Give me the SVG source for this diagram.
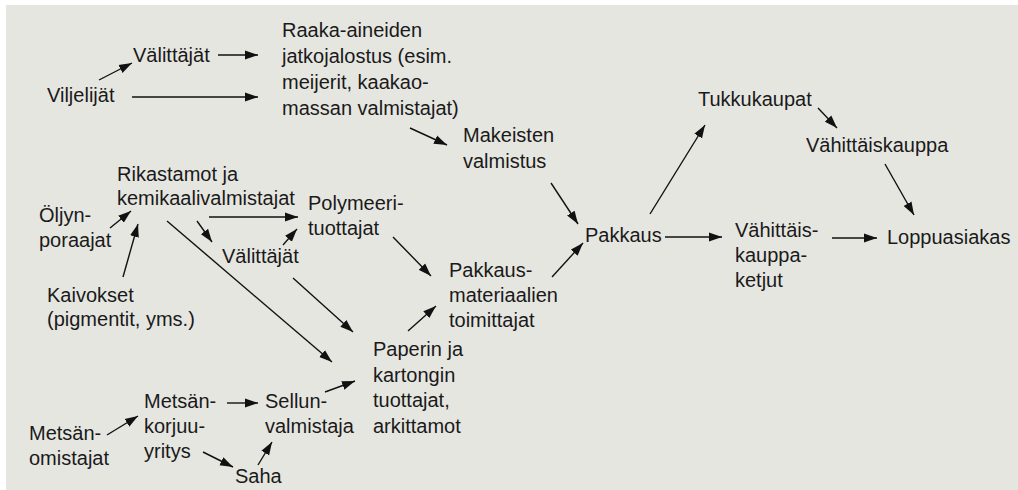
<svg xmlns="http://www.w3.org/2000/svg" width="1018" height="490" viewBox="0 0 1018 490">
<defs>
<style>
text{font-family:"Liberation Sans","Noto Sans",sans-serif;font-size:20px;fill:#1a1a1a}
.c line{stroke:#111;stroke-width:1.4;marker-end:url(#ah)}
</style>
<marker id="ah" markerUnits="userSpaceOnUse" markerWidth="13" markerHeight="10" refX="13" refY="5" orient="auto"><path d="M0,0.5 L13,5 L0,9.5 z" fill="#111"/></marker>
</defs>
<rect x="6" y="5" width="1012" height="485" fill="#e6e6e1"/>
<g id="viljelijat"><text x="47" y="102">Viljelijät</text></g>
<g id="valittajat1"><text x="133" y="62">Välittäjät</text></g>
<g id="raaka"><text x="282" y="37">Raaka-aineiden</text><text x="282" y="63">jatkojalostus (esim.</text><text x="282" y="89">meijerit, kaakao-</text><text x="282" y="115">massan valmistajat)</text></g>
<g id="makeisten"><text x="463" y="142">Makeisten</text><text x="463" y="168">valmistus</text></g>
<g id="rikastamot"><text x="117" y="181">Rikastamot ja</text><text x="117" y="205">kemikaalivalmistajat</text></g>
<g id="oljyn"><text x="39" y="222">Öljyn-</text><text x="39" y="247">poraajat</text></g>
<g id="kaivokset"><text x="47" y="302">Kaivokset</text><text x="47" y="326">(pigmentit, yms.)</text></g>
<g id="polymeeri"><text x="308" y="210">Polymeeri-</text><text x="308" y="235">tuottajat</text></g>
<g id="valittajat2"><text x="222" y="263">Välittäjät</text></g>
<g id="pakkausmat"><text x="449" y="277">Pakkaus-</text><text x="449" y="302">materiaalien</text><text x="449" y="327">toimittajat</text></g>
<g id="paperin"><text x="373" y="356">Paperin ja</text><text x="373" y="382">kartongin</text><text x="373" y="407">tuottajat,</text><text x="373" y="433">arkittamot</text></g>
<g id="metsanomistajat"><text x="29" y="440">Metsän-</text><text x="29" y="465">omistajat</text></g>
<g id="metsankorjuu"><text x="144" y="408">Metsän-</text><text x="144" y="433">korjuu-</text><text x="144" y="458">yritys</text></g>
<g id="sellun"><text x="265" y="408">Sellun-</text><text x="265" y="433">valmistaja</text></g>
<g id="saha"><text x="235" y="483">Saha</text></g>
<g id="pakkaus"><text x="585" y="242">Pakkaus</text></g>
<g id="tukkukaupat"><text x="698" y="106">Tukkukaupat</text></g>
<g id="vahittaiskauppa"><text x="806" y="152">Vähittäiskauppa</text></g>
<g id="vahittaisketjut"><text x="735" y="237">Vähittäis-</text><text x="735" y="262">kauppa-</text><text x="735" y="287">ketjut</text></g>
<g id="loppuasiakas"><text x="887" y="244">Loppuasiakas</text></g>
<g id="connectors" class="c">
<line x1="99" y1="80" x2="132" y2="63"/>
<line x1="218" y1="55" x2="258" y2="55"/>
<line x1="132" y1="97" x2="258" y2="97"/>
<line x1="410" y1="128" x2="447" y2="145"/>
<line x1="551" y1="183" x2="578" y2="224"/>
<line x1="650" y1="214" x2="705" y2="125"/>
<line x1="818" y1="108" x2="837" y2="128"/>
<line x1="885" y1="164" x2="914" y2="215"/>
<line x1="665" y1="237" x2="722" y2="237"/>
<line x1="832" y1="238" x2="877" y2="238"/>
<line x1="110" y1="228" x2="131" y2="211"/>
<line x1="123" y1="277" x2="138" y2="224"/>
<line x1="209" y1="217" x2="298" y2="217"/>
<line x1="197" y1="221" x2="212" y2="242"/>
<line x1="283" y1="245" x2="297" y2="229"/>
<line x1="167" y1="221" x2="332" y2="362"/>
<line x1="293" y1="278" x2="353" y2="332"/>
<line x1="393" y1="237" x2="431" y2="276"/>
<line x1="552" y1="277" x2="583" y2="243"/>
<line x1="408" y1="331" x2="436" y2="306"/>
<line x1="107" y1="435" x2="138" y2="416"/>
<line x1="227" y1="403" x2="258" y2="403"/>
<line x1="203" y1="452" x2="233" y2="467"/>
<line x1="258" y1="465" x2="272" y2="442"/>
<line x1="325" y1="392" x2="355" y2="381"/>
</g>
</svg>
